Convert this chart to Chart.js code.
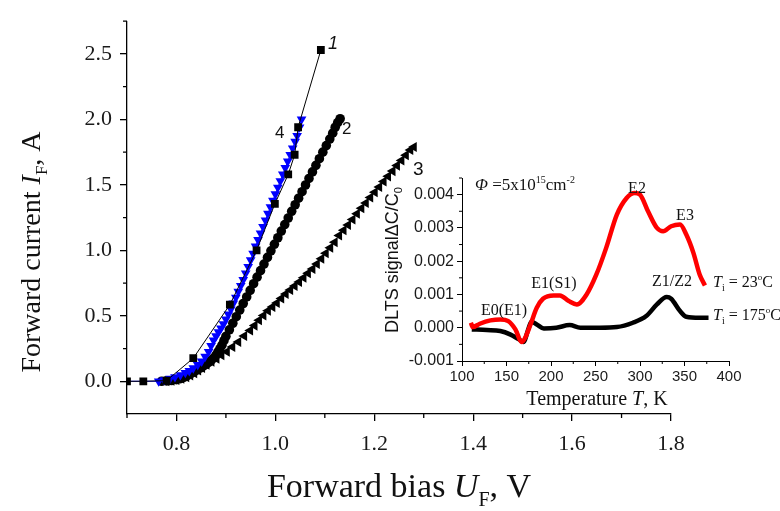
<!DOCTYPE html>
<html><head><meta charset="utf-8">
<script src="https://cdn.jsdelivr.net/npm/chart.js@4.4.1/dist/chart.umd.min.js"></script>
<style>
html,body{margin:0;padding:0;background:#fff;}
#wrap{position:relative;width:780px;height:511px;overflow:hidden;}
#main{position:absolute;left:0;top:0;}
#inset{position:absolute;left:370px;top:160px;}
</style></head><body>
<div id="wrap">
  <canvas id="main" width="780" height="511"></canvas>
  <canvas id="inset" width="410" height="255"></canvas>
</div>
<script>
// ---- main plot: forward I-V curves (V, A) ----
const curve1 = [[0.70,0],[0.733,0],[0.78,0.005],[0.834,0.176],[0.908,0.585],[0.962,1.0],[0.999,1.355],[1.026,1.58],[1.039,1.73],[1.046,1.94],[1.092,2.53]];
const curve2 = [[0.77,0],[0.78,0.003],[0.79,0.006],[0.80,0.012],[0.808,0.02],[0.815,0.03],[0.822,0.043],[0.828,0.057],[0.835,0.07],[0.841,0.085],[0.848,0.1],[0.854,0.115],[0.860,0.13],[0.865,0.145],[0.870,0.16],[0.875,0.176],[0.880,0.2],[0.884,0.225],[0.888,0.25],[0.892,0.276],[0.896,0.31],[0.900,0.343],[0.907,0.393],[0.914,0.443],[0.921,0.493],[0.928,0.544],[0.935,0.594],[0.942,0.644],[0.949,0.694],[0.956,0.745],[0.963,0.795],[0.970,0.845],[0.977,0.895],[0.984,0.946],[0.991,0.996],[0.998,1.046],[1.005,1.096],[1.012,1.147],[1.019,1.197],[1.026,1.247],[1.033,1.298],[1.040,1.348],[1.047,1.398],[1.054,1.448],[1.061,1.499],[1.068,1.549],[1.075,1.599],[1.082,1.649],[1.089,1.70],[1.096,1.75],[1.103,1.80],[1.110,1.85],[1.116,1.895],[1.121,1.94],[1.126,1.975],[1.131,2.005]];
const curve3 = [[0.78,0],[0.79,0.005],[0.80,0.01],[0.81,0.02],[0.82,0.03],[0.828,0.045],[0.836,0.062],[0.844,0.082],[0.852,0.102],[0.861,0.127],[0.871,0.15],[0.881,0.172],[0.891,0.198],[0.902,0.226],[0.913,0.262],[0.925,0.30],[0.937,0.345],[0.949,0.388],[0.958,0.425],[0.967,0.466],[0.976,0.503],[0.985,0.538],[0.994,0.568],[1.003,0.598],[1.012,0.633],[1.021,0.666],[1.030,0.697],[1.039,0.728],[1.048,0.758],[1.057,0.79],[1.066,0.825],[1.075,0.858],[1.084,0.895],[1.093,0.935],[1.102,0.978],[1.111,1.02],[1.120,1.062],[1.129,1.113],[1.138,1.153],[1.147,1.193],[1.156,1.235],[1.165,1.28],[1.174,1.322],[1.183,1.362],[1.192,1.403],[1.201,1.443],[1.210,1.484],[1.219,1.525],[1.228,1.565],[1.237,1.605],[1.246,1.647],[1.255,1.687],[1.264,1.727],[1.273,1.767],[1.280,1.789]];
const curve4 = [[0.70,0],[0.764,0],[0.775,0.01],[0.787,0.02],[0.797,0.033],[0.808,0.048],[0.818,0.065],[0.826,0.08],[0.834,0.10],[0.843,0.125],[0.851,0.152],[0.858,0.188],[0.865,0.226],[0.870,0.27],[0.875,0.313],[0.880,0.345],[0.885,0.375],[0.890,0.405],[0.895,0.437],[0.900,0.474],[0.905,0.511],[0.910,0.55],[0.915,0.595],[0.920,0.64],[0.925,0.685],[0.930,0.73],[0.935,0.775],[0.940,0.825],[0.945,0.875],[0.950,0.925],[0.955,0.975],[0.960,1.03],[0.965,1.08],[0.970,1.13],[0.975,1.18],[0.980,1.23],[0.985,1.28],[0.990,1.33],[0.995,1.38],[1.000,1.43],[1.005,1.48],[1.010,1.53],[1.015,1.58],[1.020,1.63],[1.025,1.68],[1.030,1.73],[1.035,1.78],[1.040,1.83],[1.044,1.875],[1.049,1.94],[1.053,2.0]];

const mainXTicks = [0.8, 1.0, 1.2, 1.4, 1.6, 1.8];
const mainXMinor = [0.7, 0.9, 1.1, 1.3, 1.5, 1.7];
const mainYTicks = [0, 0.5, 1.0, 1.5, 2.0, 2.5];
const mainYMinor = [0.25, 0.75, 1.25, 1.75, 2.25, 2.75];

// ---- inset: DLTS spectra (K, dC/C0) ----
const dlts23 = [[110,0.00015],[112,0.00002],[120,0.00012],[132,0.00022],[143,0.00025],[152,0.0002],[160,-0.00005],[167,-0.00043],[171,-0.0003],[177,0.0001],[184,0.0006],[191,0.00087],[203,0.00097],[210,0.00097],[220,0.0008],[229,0.0007],[240,0.001],[251,0.0016],[262,0.0024],[274,0.0034],[285,0.0039],[294,0.00405],[300,0.004],[309,0.0035],[319,0.003],[326,0.0029],[335,0.00305],[345,0.0031],[352,0.0028],[360,0.00225],[367,0.0016],[373,0.00127]];
const dlts175 = [[111,-0.00005],[128,-0.00007],[143,-0.0001],[154,-0.0002],[164,-0.00035],[169,-0.00043],[175,0],[178,0.00018],[184,0.0001],[192,-0.00002],[206,0],[221,0.00008],[233,0],[255,0],[274,0.00002],[292,0.00015],[307,0.00035],[319,0.0007],[330,0.00092],[335,0.00087],[345,0.0005],[352,0.00033],[367,0.0003],[377,0.0003]];

const insetXTicks = [100, 150, 200, 250, 300, 350, 400];
const insetXMinor = [125, 175, 225, 275, 325, 375];
const insetYTicks = [-0.001, 0, 0.001, 0.002, 0.003, 0.004];
const insetYMinor = [-0.0005, 0.0005, 0.0015, 0.0025, 0.0035, 0.0045];

const SERIF = '"Liberation Serif", "Times New Roman", serif';
const SANS = '"Liberation Sans", Arial, sans-serif';
const pts = arr => arr.map(([x, y]) => ({ x, y }));

function drawRich(ctx, parts, x, y, rot, align) {
  ctx.save();
  ctx.translate(x, y);
  if (rot) ctx.rotate(rot);
  let w = 0;
  parts.forEach(p => { ctx.font = p.f; w += ctx.measureText(p.t).width; });
  let cx = align === 'center' ? -w / 2 : 0;
  ctx.textBaseline = 'alphabetic';
  ctx.textAlign = 'left';
  parts.forEach(p => {
    ctx.font = p.f;
    ctx.fillStyle = p.c || '#111';
    ctx.fillText(p.t, cx, p.dy || 0);
    cx += ctx.measureText(p.t).width;
  });
  ctx.restore();
}

// minor tick marks + free text
const extras = {
  id: 'extras',
  afterDraw(chart, args, opts) {
    const { ctx, scales: { x, y } } = chart;
    ctx.save();
    ctx.strokeStyle = '#000';
    ctx.lineWidth = opts.width;
    ctx.beginPath();
    opts.minorX.forEach(v => { const px = x.getPixelForValue(v); ctx.moveTo(px, x.top); ctx.lineTo(px, x.top + opts.len); });
    opts.minorY.forEach(v => { const py = y.getPixelForValue(v); ctx.moveTo(y.right, py); ctx.lineTo(y.right - opts.len, py); });
    ctx.stroke();
    ctx.restore();
    opts.texts.forEach(t => drawRich(ctx, t.parts, t.x, t.y, t.rot, t.align));
  }
};

function axis(min, max, ticks, fmt, font, tickLen, pad, fitKey, fitVal, bw) {
  return {
    type: 'linear', min, max,
    afterBuildTicks: s => { s.ticks = ticks.map(v => ({ value: v })); },
    afterFit: s => { s[fitKey] = fitVal; },
    grid: { display: true, drawOnChartArea: false, drawTicks: true, tickLength: tickLen, color: '#000', lineWidth: bw },
    border: { display: true, color: '#000', width: bw },
    ticks: { callback: fmt, font, color: '#1a1a1a', padding: pad, autoSkip: false, maxRotation: 0 }
  };
}

new Chart(document.getElementById('main'), {
  type: 'scatter',
  data: {
    datasets: [
      { label: '1', data: pts(curve1), order: 0, showLine: true, borderColor: '#000', borderWidth: 1,
        pointStyle: 'rect', pointRadius: 5.5, backgroundColor: '#000', pointBorderWidth: 0 },
      { label: '4', data: pts(curve4), order: 1, showLine: true, borderColor: '#0000ff', borderWidth: 1,
        pointStyle: 'triangle', rotation: 180, pointRadius: c => c.dataIndex === 0 ? 0 : 5.6,
        backgroundColor: '#0000ff', pointBorderWidth: 0 },
      { label: '2', data: pts(curve2), order: 2, pointStyle: 'circle', pointRadius: 4.8,
        backgroundColor: '#000', pointBorderWidth: 0 },
      { label: '3', data: pts(curve3), order: 3, pointStyle: 'triangle', rotation: -90, pointRadius: 5.8,
        backgroundColor: '#000', pointBorderWidth: 0 }
    ]
  },
  options: {
    responsive: false, animation: false,
    layout: { padding: { left: 0, top: 12, right: 109, bottom: 0 } },
    plugins: {
      legend: { display: false }, tooltip: { enabled: false },
      extras: {
        width: 1.3, len: 4, minorX: mainXMinor, minorY: mainYMinor,
        texts: [
          { parts: [{ t: 'Forward current ', f: `28px ${SERIF}` }, { t: 'I', f: `italic 28px ${SERIF}` },
                    { t: 'F', f: `17px ${SERIF}`, dy: 7 }, { t: ', A', f: `28px ${SERIF}` }],
            x: 40, y: 252, rot: -Math.PI / 2, align: 'center' },
          { parts: [{ t: 'Forward bias ', f: `34px ${SERIF}` }, { t: 'U', f: `italic 34px ${SERIF}` },
                    { t: 'F', f: `20px ${SERIF}`, dy: 9 }, { t: ', V', f: `34px ${SERIF}` }],
            x: 399, y: 497, align: 'center' },
          { parts: [{ t: '1', f: `italic 18px ${SANS}` }], x: 328, y: 49 },
          { parts: [{ t: '2', f: `17px ${SANS}` }], x: 342, y: 134 },
          { parts: [{ t: '3', f: `19px ${SANS}` }], x: 413, y: 175 },
          { parts: [{ t: '4', f: `17px ${SANS}` }], x: 275, y: 138 }
        ]
      }
    },
    scales: {
      x: axis(0.7, 1.8, mainXTicks, v => v.toFixed(1), { family: SERIF, size: 22 }, 7, 10, 'height', 97, 1.3),
      y: axis(-0.25, 2.75, mainYTicks, v => v.toFixed(1), { family: SERIF, size: 22 }, 7, 8, 'width', 127, 1.3)
    }
  },
  plugins: [extras]
});

new Chart(document.getElementById('inset'), {
  type: 'scatter',
  data: {
    datasets: [
      { label: 'Ti = 23 C', data: pts(dlts23), showLine: true, borderColor: '#ff0000', borderWidth: 4.5,
        cubicInterpolationMode: 'monotone', pointRadius: 0 },
      { label: 'Ti = 175 C', data: pts(dlts175), showLine: true, borderColor: '#000', borderWidth: 4.5,
        cubicInterpolationMode: 'monotone', pointRadius: 0 }
    ]
  },
  options: {
    responsive: false, animation: false,
    layout: { padding: { left: 0, top: 18, right: 51, bottom: 0 } },
    plugins: {
      legend: { display: false }, tooltip: { enabled: false },
      extras: {
        width: 1, len: 3, minorX: insetXMinor, minorY: insetYMinor,
        texts: [
          { parts: [{ t: 'DLTS signal', f: `18px ${SANS}` }, { t: 'ΔC/C', f: `18px ${SANS}` },
                    { t: '0', f: `11px ${SANS}`, dy: 4 }],
            x: 28, y: 100, rot: -Math.PI / 2, align: 'center' },
          { parts: [{ t: 'Temperature ', f: `20px ${SERIF}` }, { t: 'T', f: `italic 20px ${SERIF}` },
                    { t: ', K', f: `20px ${SERIF}` }],
            x: 227, y: 245, align: 'center' },
          { parts: [{ t: 'Φ', f: `italic 17px ${SERIF}` }, { t: ' =5x10', f: `17px ${SERIF}` },
                    { t: '15', f: `10px ${SERIF}`, dy: -7 }, { t: 'cm', f: `17px ${SERIF}` },
                    { t: '-2', f: `10px ${SERIF}`, dy: -7 }],
            x: 105, y: 30 },
          { parts: [{ t: 'E2', f: `16px ${SERIF}` }], x: 267, y: 33, align: 'center' },
          { parts: [{ t: 'E3', f: `16px ${SERIF}` }], x: 315, y: 60, align: 'center' },
          { parts: [{ t: 'E1(S1)', f: `16px ${SERIF}` }], x: 184, y: 128, align: 'center' },
          { parts: [{ t: 'E0(E1)', f: `16px ${SERIF}` }], x: 134, y: 155, align: 'center' },
          { parts: [{ t: 'Z1/Z2', f: `16px ${SERIF}` }], x: 302, y: 126, align: 'center' },
          { parts: [{ t: 'T', f: `italic 16px ${SERIF}` }, { t: 'i', f: `10px ${SERIF}`, dy: 4 },
                    { t: ' = 23', f: `16px ${SERIF}` }, { t: 'o', f: `9px ${SERIF}`, dy: -7 },
                    { t: 'C', f: `16px ${SERIF}` }], x: 343, y: 127 },
          { parts: [{ t: 'T', f: `italic 16px ${SERIF}` }, { t: 'i', f: `10px ${SERIF}`, dy: 4 },
                    { t: ' = 175', f: `16px ${SERIF}` }, { t: 'o', f: `9px ${SERIF}`, dy: -7 },
                    { t: 'C', f: `16px ${SERIF}` }], x: 343, y: 160 }
        ]
      }
    },
    scales: {
      x: axis(100, 400, insetXTicks, v => String(v), { family: SANS, size: 15 }, 5, 2, 'height', 54, 1),
      y: axis(-0.001, 0.0045, insetYTicks, v => v.toFixed(3), { family: SANS, size: 16 }, 5, 3, 'width', 92, 1)
    }
  },
  plugins: [extras]
});
</script>
</body></html>
